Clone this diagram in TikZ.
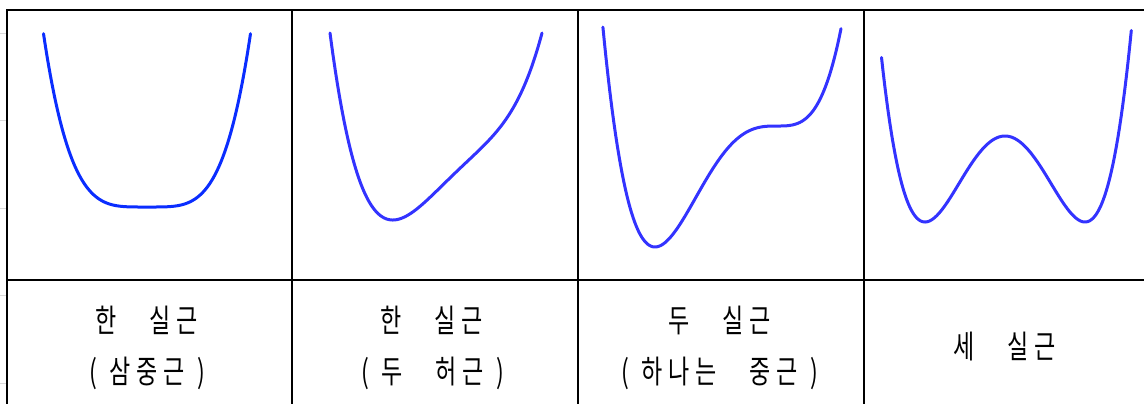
\documentclass[tikz,border=0pt]{standalone}
\usepackage{fontspec}
\newfontfamily\kr[FakeStretch=0.72]{Noto Sans CJK KR}
\definecolor{curveA}{RGB}{10,45,255}
\definecolor{curveB}{RGB}{51,51,255}
\newcommand{\kcell}[1]{\makebox[13.5pt][c]{#1}}
\begin{document}
\begin{tikzpicture}[x=0.5pt,y=-0.5pt,
  gridline/.style={line width=1pt,black,line cap=rect},
  curve/.style={line width=1.5pt,line join=round,line cap=round},
  ktext/.style={font=\kr\fontsize{16pt}{18pt}\selectfont,inner sep=0pt,anchor=base},
  tickmark/.style={black!15,line width=0.5pt},
  declare function={qa(\t)=\t*\t*\t*\t;
                    pb(\v)=191.593-102.918*\v-15.832*\v*\v+102.918*\v*\v*\v-142.761*\v*\v*\v*\v;
                    pc(\u)=0.25*\u*\u*\u*\u+\u*\u*\u/3;
                    pd(\u)=(\u*\u-1)*(\u*\u-1);}]
\useasboundingbox (0,0) rectangle (1144,403);
% faint ticks on the left edge
\foreach \yy in {33,120,208,295,383} \draw[tickmark] (0,\yy) -- (6,\yy);
% table lines
\draw[gridline] (7,403) -- (7,10) -- (1144,10);
\draw[gridline] (7,280) -- (1144,280);
\foreach \xx in {292,578,864} \draw[gridline] (\xx,10) -- (\xx,403);
% panel 1: quartic with flat bottom
\draw[curve,curveA] plot[domain=43.5:250.5,samples=150] (\x,{207-170*qa((\x-147)/103)});
% panel 2: quartic with one real critical point
\draw[curve,curveB] plot[domain=330:542,samples=150] (\x,{pb((\x-436)/106)});
% panel 3: quartic with a flat inflection
\draw[curve,curveB] plot[domain=602.9:841,samples=150] (\x,{126-1452*pc((\x-777)/122)});
% panel 4: double well
\draw[curve,curveB] plot[domain=881.5:1131.3,samples=150] (\x,{222-86*pd((\x-1005)/80)});
% labels
\node[ktext] (t1a) at (147,332) {\kcell{한}\kcell{}\kcell{실}\kcell{근}};
\node[ktext] (t1b) at (147,383) {\kcell{(}\kcell{삼}\kcell{중}\kcell{근}\kcell{)}};
\node[ktext] (t2a) at (432,332) {\kcell{한}\kcell{}\kcell{실}\kcell{근}};
\node[ktext] (t2b) at (433,383) {\kcell{(}\kcell{두}\kcell{}\kcell{허}\kcell{근}\kcell{)}};
\node[ktext] (t3a) at (720,332) {\kcell{두}\kcell{}\kcell{실}\kcell{근}};
\node[ktext] (t3b) at (720,383) {\kcell{(}\kcell{하}\kcell{나}\kcell{는}\kcell{}\kcell{중}\kcell{근}\kcell{)}};
\node[ktext] (t4a) at (1005,358) {\kcell{세}\kcell{}\kcell{실}\kcell{근}};
\end{tikzpicture}
\end{document}
